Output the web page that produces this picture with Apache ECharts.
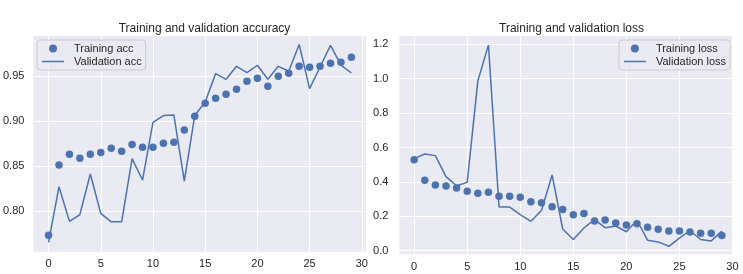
<!DOCTYPE html>
<html>
<head>
<meta charset="utf-8">
<script src="https://cdn.jsdelivr.net/npm/echarts@6/dist/echarts.min.js"></script>
<style>
html,body{margin:0;padding:0;background:#fff;}
#c{width:743px;height:274px;}
</style>
</head>
<body>
<div id="c"></div>
<script>
const epochs = [0,1,2,3,4,5,6,7,8,9,10,11,12,13,14,15,16,17,18,19,20,21,22,23,24,25,26,27,28,29];
const trainAcc = [0.773,0.851,0.863,0.8585,0.863,0.865,0.8696,0.8663,0.874,0.8707,0.8707,0.8752,0.8763,0.890,0.9052,0.9196,0.9252,0.9296,0.9352,0.944,0.9474,0.9385,0.9496,0.953,0.9607,0.9596,0.9607,0.964,0.9652,0.9707];
const valAcc = [0.7652,0.827,0.7885,0.796,0.8411,0.7974,0.788,0.788,0.8581,0.8344,0.8985,0.906,0.9067,0.8333,0.906,0.921,0.9526,0.9463,0.9607,0.9537,0.9619,0.9463,0.9607,0.9552,0.985,0.936,0.960,0.984,0.962,0.9533];
const trainLoss = [0.529,0.409,0.3815,0.3756,0.364,0.346,0.334,0.340,0.3166,0.3166,0.311,0.285,0.279,0.2557,0.24,0.2085,0.2163,0.173,0.179,0.161,0.1495,0.157,0.1357,0.124,0.114,0.114,0.108,0.102,0.102,0.0885];
const valLoss = [0.535,0.5624,0.5526,0.4307,0.3776,0.397,0.986,1.195,0.2537,0.2537,0.21,0.171,0.234,0.4405,0.126,0.065,0.132,0.181,0.134,0.1436,0.110,0.177,0.061,0.051,0.0256,0.073,0.116,0.065,0.057,0.114];
const xTicks = [0,5,10,15,20,25,30];
const accTicks = [0.80,0.85,0.90,0.95];
const lossTicks = [0,0.2,0.4,0.6,0.8,1.0,1.2];
const accTickLabels = ['0.80','0.85','0.90','0.95'];
const lossTickLabels = ['0.0','0.2','0.4','0.6','0.8','1.0','1.2'];

const C = '#4C72B0';
const FONT = "'Liberation Sans', Arial, sans-serif";
const pair = (arr) => arr.map((v, i) => [epochs[i], v]);

function xAxis(grid, min, max) {
  return {
    gridIndex: grid, type: 'value', min: min, max: max,
    axisLine: {show: false},
    axisTick: {show: false, customValues: xTicks},
    axisLabel: {customValues: xTicks, color: '#262626', fontSize: 11, fontFamily: FONT, margin: 7},
    splitLine: {show: true, lineStyle: {color: '#ffffff', width: 1}}
  };
}
function yAxis(grid, min, max, ticks, labels, margin) {
  return {
    gridIndex: grid, type: 'value', min: min, max: max,
    axisLine: {show: false},
    axisTick: {show: false, customValues: ticks},
    axisLabel: {customValues: ticks, color: '#262626', fontSize: 11, fontFamily: FONT, margin: margin,
      formatter: (v) => { const i = ticks.findIndex(t => Math.abs(t - v) < 1e-9); return i >= 0 ? labels[i] : ''; }},
    splitLine: {show: true, lineStyle: {color: '#ffffff', width: 1}}
  };
}
function legend(names, pos) {
  return Object.assign({
    data: [{name: names[0], icon: 'circle'}, {name: names[1], icon: 'path://M0,0H22V1.5H0Z'}],
    orient: 'vertical',
    itemWidth: 22, itemHeight: 8, itemGap: 2,
    padding: [3, 4, 3, 5],
    backgroundColor: 'rgba(234,234,242,0.8)',
    borderColor: '#cccccc', borderWidth: 1, borderRadius: 3,
    textStyle: {color: '#262626', fontSize: 11, fontFamily: FONT, padding: [0, 0, 0, 5]}
  }, pos);
}

const chart = echarts.init(document.getElementById('c'), null, {renderer: 'canvas'});
chart.setOption({
  animation: false,
  backgroundColor: '#ffffff',
  title: [
    {text: 'Training and validation accuracy', left: 199.5, top: 18, textAlign: 'center',
     textStyle: {color: '#262626', fontSize: 12, fontWeight: 'normal', fontFamily: FONT}},
    {text: 'Training and validation loss', left: 566.5, top: 18, textAlign: 'center',
     textStyle: {color: '#262626', fontSize: 12, fontWeight: 'normal', fontFamily: FONT}}
  ],
  legend: [
    legend(['Training acc', 'Validation acc'], {left: 37, top: 40}),
    legend(['Training loss', 'Validation loss'], {right: 13, top: 40})
  ],
  grid: [
    {left: 33, right: 377, top: 36, bottom: 22.3, show: true, backgroundColor: '#EAEAF2', borderWidth: 0},
    {left: 399.3, right: 10, top: 36, bottom: 19.7, show: true, backgroundColor: '#EAEAF2', borderWidth: 0}
  ],
  xAxis: [xAxis(0, -1.45, 30.4), xAxis(1, -1.4, 30.05)],
  yAxis: [yAxis(0, 0.7548, 0.9944, accTicks, accTickLabels, 9), yAxis(1, -0.021, 1.248, lossTicks, lossTickLabels, 11)],
  series: [
    {name: 'Training acc', type: 'scatter', xAxisIndex: 0, yAxisIndex: 0, data: pair(trainAcc),
     symbol: 'circle', symbolSize: 7.5, itemStyle: {color: C, opacity: 1}},
    {name: 'Validation acc', type: 'line', xAxisIndex: 0, yAxisIndex: 0, data: pair(valAcc),
     symbol: 'none', lineStyle: {color: C, width: 1.5}, itemStyle: {color: C}},
    {name: 'Training loss', type: 'scatter', xAxisIndex: 1, yAxisIndex: 1, data: pair(trainLoss),
     symbol: 'circle', symbolSize: 7.5, itemStyle: {color: C, opacity: 1}},
    {name: 'Validation loss', type: 'line', xAxisIndex: 1, yAxisIndex: 1, data: pair(valLoss),
     symbol: 'none', lineStyle: {color: C, width: 1.5}, itemStyle: {color: C}}
  ]
});
</script>
</body>
</html>
